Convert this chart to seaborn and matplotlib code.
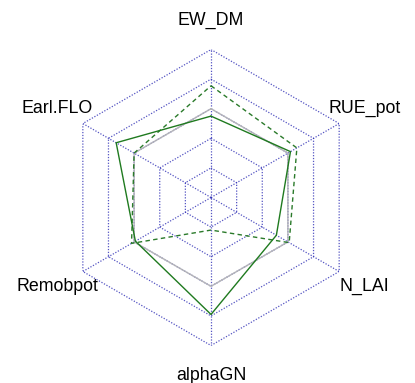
import numpy as np
import pandas as pd
import matplotlib
matplotlib.use("Agg")
import matplotlib.pyplot as plt
import seaborn as sns

sns.set_theme(style="white")
plt.rcParams['font.family'] = ['Liberation Sans', 'DejaVu Sans']

# Axes, clockwise from top
categories = ["EW_DM", "RUE_pot", "N_LAI", "alphaGN", "Remobpot", "Earl.FLO"]
# Values as fraction of the outer ring
reference = [0.60, 0.60, 0.60, 0.60, 0.60, 0.60]
solid_green = [0.55, 0.62, 0.51, 0.79, 0.59, 0.74]
dashed_green = [0.755, 0.67, 0.61, 0.22, 0.62, 0.60]
ring_levels = [0.2, 0.4, 0.6, 0.8, 1.0]

n = len(categories)
theta = np.linspace(0, 2 * np.pi, n, endpoint=False)
theta_closed = np.append(theta, 2 * np.pi)

fig = plt.figure(figsize=(4.15, 3.83), dpi=100)
ax = fig.add_axes([0.1518, 0.0979, 0.7133, 0.7728], projection="polar")
ax.set_theta_zero_location("N")
ax.set_theta_direction(-1)
ax.set_ylim(0, 1)
ax.grid(False)
ax.spines["polar"].set_visible(False)
ax.set_xticks([])
ax.set_yticks([])
ax.set_facecolor("none")

grid_color = "#2a2ab4"
grid_ls = (0, (1.0, 1.3))
for lv in ring_levels:
    ax.plot(theta_closed, [lv] * (n + 1), linestyle=grid_ls, color=grid_color,
            lw=0.9, alpha=0.8, zorder=1)
for a in theta:
    ax.plot([a, a], [0, 1], linestyle=grid_ls, color=grid_color, lw=0.9,
            alpha=0.8, zorder=1)

def close(v):
    return list(v) + [v[0]]

series = [
    ("reference", reference, "#b4b4b8", "-"),
    ("dashed", dashed_green, "#2a7a2a", (0, (3.2, 2.4))),
    ("solid", solid_green, "#1f7a1f", "-"),
]
for name, vals, col, ls in series:
    df = pd.DataFrame({"theta": theta_closed, "r": close(vals)})
    sns.lineplot(data=df, x="theta", y="r", ax=ax, sort=False, estimator=None,
                 color=col, linestyle=ls, lw=1.0, zorder=3)

ax.set_xlabel("")
ax.set_ylabel("")
for a, lab in zip(theta, categories):
    ax.text(a, 1.2, lab, ha="center", va="center", fontsize=12.8,
            color="black", clip_on=False)

fig.savefig("out.png", dpi=100)
